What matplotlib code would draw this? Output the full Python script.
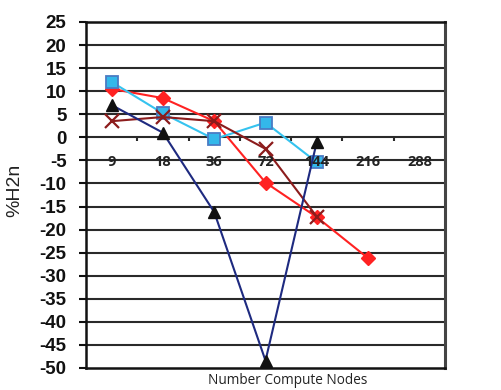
import matplotlib.pyplot as plt
import numpy as np

nodes = ["9", "18", "36", "72", "144", "216", "288"]

# percentage change per node count (series end where no run was made)
red_diamond = [10.5, 8.5, 3.5, -9.8, -17.3, -26.2]
blue_square = [12.0, 5.2, -0.4, 3.2, -5.4]
darkred_x = [3.5, 4.4, 3.5, -2.5, -17.2]
navy_triangle = [7.0, 1.0, -16.2, -48.4, -1.0]

y_ticks = list(range(-50, 30, 5))

fig = plt.figure(figsize=(5.01, 3.90), dpi=100)
ax = fig.add_axes([86 / 501, 1 - 368 / 390, 359 / 501, 346 / 390])

x_pos = np.arange(len(nodes))

ax.plot(x_pos[:len(red_diamond)], red_diamond, color="#ff2222", lw=1.5,
        marker="D", ms=7.5, mfc="#ff2222", mec="#ff2222", zorder=4)
ax.plot(x_pos[:len(blue_square)], blue_square, color="#35c3ef", lw=1.5,
        marker="s", ms=8.5, mfc="#33b8ea", mec="#4a7cc4", mew=1.3, zorder=5)
ax.plot(x_pos[:len(darkred_x)], darkred_x, color="#8c1c1c", lw=1.5,
        marker="x", ms=10, mew=1.6, zorder=6)
ax.plot(x_pos[:len(navy_triangle)], navy_triangle, color="#1e2a80", lw=1.5,
        zorder=7)
ax.plot(x_pos[:len(navy_triangle)], navy_triangle, ls="none",
        marker="^", ms=9, mfc="#111111", mec="#111111", zorder=8)

ax.set_xlim(-0.5, len(nodes) - 0.5)
ax.set_ylim(-50, 25)

# horizontal grid
for v in y_ticks[1:-1]:
    ax.axhline(v, color="#2a2a2a", lw=1.5, zorder=1)

# tick marks on the zero line between categories
ax.vlines(x_pos[:-1] + 0.5, -0.9, 0, color="#2a2a2a", lw=1.5, zorder=1)

# category labels sit just under the zero line
for i, lab in enumerate(nodes):
    ax.text(i, -5.4, lab, ha="center", va="center", fontsize=10.5,
            fontweight="bold", family="Open Sans", color="#222222", zorder=10)

ax.set_xticks([])
ax.set_yticks(y_ticks)
ax.set_yticklabels([str(v) for v in y_ticks], fontsize=13.5,
                   fontweight="bold", family="Liberation Sans")
ax.tick_params(axis="y", direction="out", length=5, width=1.5, pad=9,
               colors="#111111")

for side in ["left", "top", "bottom"]:
    ax.spines[side].set_linewidth(1.8)
    ax.spines[side].set_color("#111111")
ax.spines["right"].set_linewidth(2.2)
ax.spines["right"].set_color("#444444")

fig.text(288 / 501, 1 - 380 / 390, "Number Compute Nodes", ha="center",
         va="center", fontsize=9.8, family="Open Sans", color="#222222")
fig.text(15 / 501, 1 - 190 / 390, "%H2n", ha="center", va="center",
         rotation=90, fontsize=14, family="Liberation Sans", color="#222222")

fig.savefig("out.png", dpi=100)
